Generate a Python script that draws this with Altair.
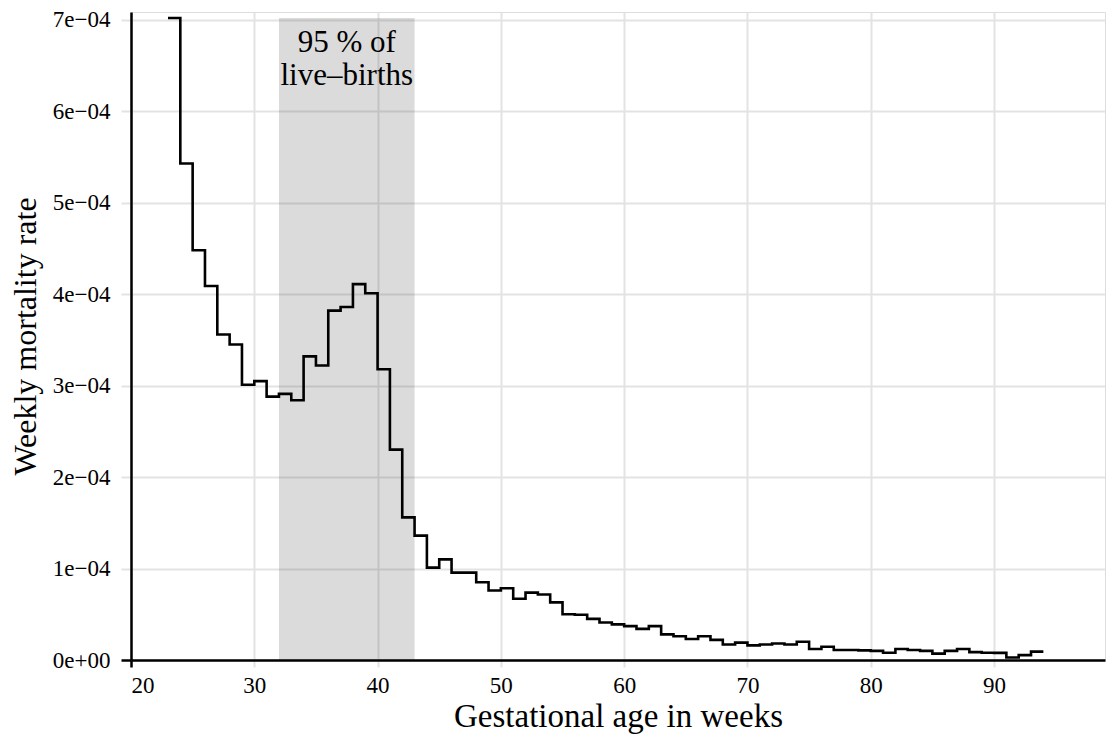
import altair as alt
import pandas as pd

# Week starts of each step (the last step ends at week 94)
week_start = list(range(23, 94))
rate_e4 = [7.02, 5.43, 4.48, 4.09, 3.56, 3.45, 3.01, 3.05, 2.88, 2.91,
           2.84, 3.32, 3.22, 3.82, 3.86, 4.11, 4.01, 3.18, 2.30, 1.56,
           1.36, 1.01, 1.10, 0.955, 0.955, 0.85, 0.76, 0.785, 0.67, 0.737,
           0.716, 0.63, 0.50, 0.495, 0.45, 0.41, 0.39, 0.37, 0.34, 0.37,
           0.28, 0.26, 0.23, 0.26, 0.22, 0.17, 0.19, 0.16, 0.17, 0.18,
           0.17, 0.20, 0.12, 0.145, 0.11, 0.11, 0.105, 0.10, 0.08, 0.12,
           0.11, 0.10, 0.07, 0.10, 0.12, 0.086, 0.08, 0.078, 0.028, 0.053,
           0.092]
last_week_end = 94

band_start, band_end = 32, 43
band_label = "95 % of\nlive–births"

x_ticks = [20, 30, 40, 50, 60, 70, 80, 90]
y_ticks = [0, 1e-4, 2e-4, 3e-4, 4e-4, 5e-4, 6e-4, 7e-4]
x_domain = [20, 99]
y_domain = [0, 7.086e-4]

FONT = "Liberation Serif"
GRID = "#e3e3e3"

rates = [r * 1e-4 for r in rate_e4]
line_df = pd.DataFrame({
    "week": week_start + [last_week_end],
    "rate": rates + [rates[-1]],
})
band_df = pd.DataFrame({
    "x1": [band_start], "x2": [band_end],
    "y1": [0.0], "y2": [max(rates)],
    "xm": [(band_start + band_end) / 2], "label": [band_label],
})

xscale = alt.Scale(domain=x_domain, nice=False, zero=False)
yscale = alt.Scale(domain=y_domain, nice=False)

xaxis = alt.Axis(
    title="Gestational age in weeks", values=x_ticks, format="d",
    grid=True, gridColor=GRID, gridWidth=2,
    domainColor="black", domainWidth=2.5,
    tickColor={"condition": {"test": "datum.value == 20", "value": "black"}, "value": GRID},
    tickWidth={"condition": {"test": "datum.value == 20", "value": 2.5}, "value": 2},
    tickSize=7, labelPadding=7,
    labelFont=FONT, labelFontSize=23, labelColor="black",
    titleFont=FONT, titleFontSize=33, titleFontWeight="normal", titleColor="black",
    titleBaseline="alphabetic", titleY=66,
)
yaxis = alt.Axis(
    title="Weekly mortality rate", values=y_ticks,
    labelExpr="datum.value < 1e-9 ? '0e+00' : format(datum.value*1e4, '.0f') + 'e−04'",
    grid=True, gridColor=GRID, gridWidth=2,
    domainColor="black", domainWidth=2.5,
    tickColor={"condition": {"test": "datum.value == 0", "value": "black"}, "value": GRID},
    tickWidth={"condition": {"test": "datum.value == 0", "value": 2.5}, "value": 2},
    tickSize=10, labelPadding=11,
    labelFont=FONT, labelFontSize=23, labelColor="black",
    titleFont=FONT, titleFontSize=32, titleFontWeight="normal", titleColor="black",
    titleBaseline="alphabetic", titleX=-96,
)

band = alt.Chart(band_df).mark_rect(color="black", opacity=0.14).encode(
    x=alt.X("x1:Q", scale=xscale, axis=xaxis),
    x2="x2:Q",
    y=alt.Y("y1:Q", scale=yscale, axis=yaxis),
    y2="y2:Q",
)

label = alt.Chart(band_df).mark_text(
    font=FONT, fontSize=31, color="black", align="center",
    baseline="alphabetic", dy=34, lineHeight=33, lineBreak="\n",
).encode(
    x=alt.X("xm:Q", scale=xscale),
    y=alt.Y("y2:Q", scale=yscale),
    text="label:N",
)

line = alt.Chart(line_df).mark_line(
    interpolate="step-after", color="black", strokeWidth=2.6
).encode(
    x=alt.X("week:Q", scale=xscale),
    y=alt.Y("rate:Q", scale=yscale),
)

chart = alt.layer(band, label, line).properties(
    width=974, height=648,
    autosize=alt.AutoSizeParams(type="none"),
    padding={"left": 123, "top": 4, "right": 2, "bottom": 74},
).configure_view(stroke=None).configure(background="white")

chart.save("out.html", embed_options={"renderer": "svg", "actions": False})
